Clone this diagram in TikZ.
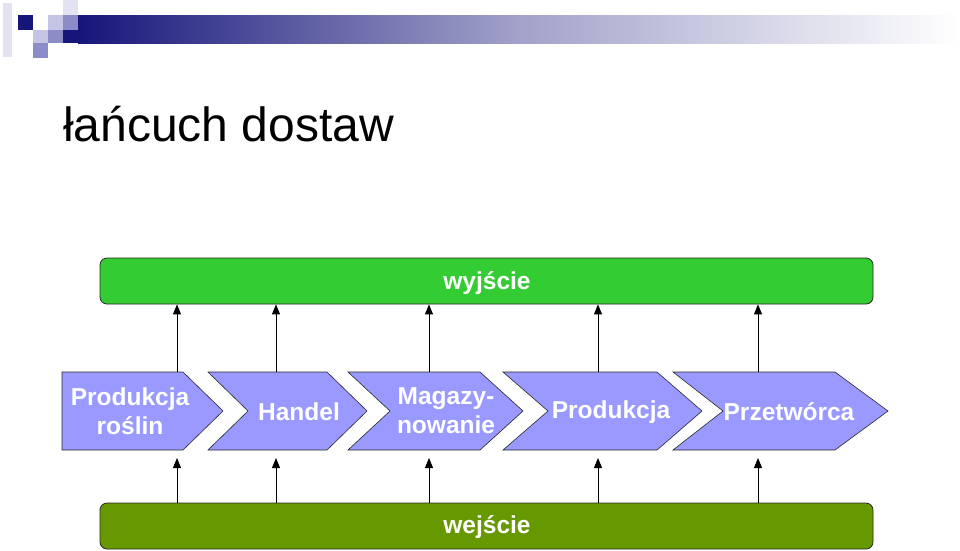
\documentclass[tikz,border=0pt]{standalone}
\usepackage{fontspec}
\setmainfont{Liberation Sans}
\usetikzlibrary{arrows.meta}
\definecolor{navy}{RGB}{22,22,122}
\definecolor{midblue}{RGB}{140,140,200}
\definecolor{lightblue}{RGB}{196,196,228}
\definecolor{paleblue}{RGB}{226,226,242}
\definecolor{chev}{RGB}{153,153,255}
\definecolor{topgreen}{RGB}{51,204,51}
\definecolor{botgreen}{RGB}{102,153,0}
\definecolor{edge}{RGB}{40,40,40}
\tikzset{
  chevbox/.style={fill=chev, draw=edge, line width=0.6pt},
  chevtext/.style={text=white, font=\fontsize{24.5}{29}\selectfont\bfseries, align=center, inner sep=0pt},
  barbox/.style={draw=edge, line width=0.8pt, rounded corners=7pt, minimum width=773pt, minimum height=46pt, inner sep=0pt},
  bartext/.style={text=white, font=\fontsize{24.5}{29}\selectfont\bfseries, inner sep=0pt},
  arr/.style={draw=black, line width=0.9pt, -{Triangle[length=10pt,width=8pt]}}
}
\begin{document}
\begin{tikzpicture}[x=1pt,y=-1pt]
\useasboundingbox (0,0) rectangle (960,550);
\fill[white] (0,0) rectangle (960,550);
% header decoration
\shade[left color=navy, right color=white, middle color=navy!40!white] (78,15) rectangle (960,43);
\fill[paleblue] (3,3) rectangle (12,57);
\fill[navy] (18,15) rectangle (33,30);
\fill[lightblue] (33,30) rectangle (48,43);
\fill[midblue] (33,43) rectangle (48,58);
\fill[lightblue] (48,15) rectangle (63,30);
\fill[midblue] (48,30) rectangle (63,43);
\fill[paleblue] (63,0) rectangle (78,15);
\fill[midblue] (63,15) rectangle (78,30);
\fill[navy] (63,30) rectangle (80,43);
% title
\node[anchor=base west, inner sep=0pt, font=\fontsize{48}{52}\selectfont] (title) at (63,141) {łańcuch dostaw};
% bars
\node[barbox, fill=topgreen] (wyj) at (486.5,281) {};
\node[barbox, fill=botgreen] (wej) at (486.5,526) {};
\node[bartext] (wyjt) at (487,283) {wyjście};
\node[bartext] (wejt) at (487,527) {wejście};
% chevrons
\draw[chevbox] (62,372) -- (183,372) -- (223,411) -- (183,450) -- (62,450) -- cycle;
\draw[chevbox] (208,372) -- (327,372) -- (367,411) -- (327,450) -- (208,450) -- (248,411) -- cycle;
\draw[chevbox] (348,372) -- (480,372) -- (523,411) -- (480,450) -- (348,450) -- (390,411) -- cycle;
\draw[chevbox] (503,372) -- (657,372) -- (702,411) -- (657,450) -- (503,450) -- (548,411) -- cycle;
\draw[chevbox] (673,372) -- (835,372) -- (888,411) -- (835,450) -- (673,450) -- (723,411) -- cycle;
\node[chevtext] (c1) at (130,411) {Produkcja\\roślin};
\node[chevtext] (c2) at (299,412) {Handel};
\node[chevtext] (c3) at (446,411) {Magazy-\\nowanie};
\node[chevtext] (c4) at (611,412) {Produkcja};
\node[chevtext] (c5) at (789,412) {Przetwórca};
% connector anchors
\foreach \i/\x in {1/177,2/276,3/429,4/598,5/758}{
  \coordinate (t\i) at (\x,372);
  \coordinate (b\i) at (\x,458);
  \draw[arr] (t\i) -- (t\i |- wyj.south);
  \draw[arr] (b\i |- wej.north) -- (b\i);
}
\end{tikzpicture}
\end{document}
